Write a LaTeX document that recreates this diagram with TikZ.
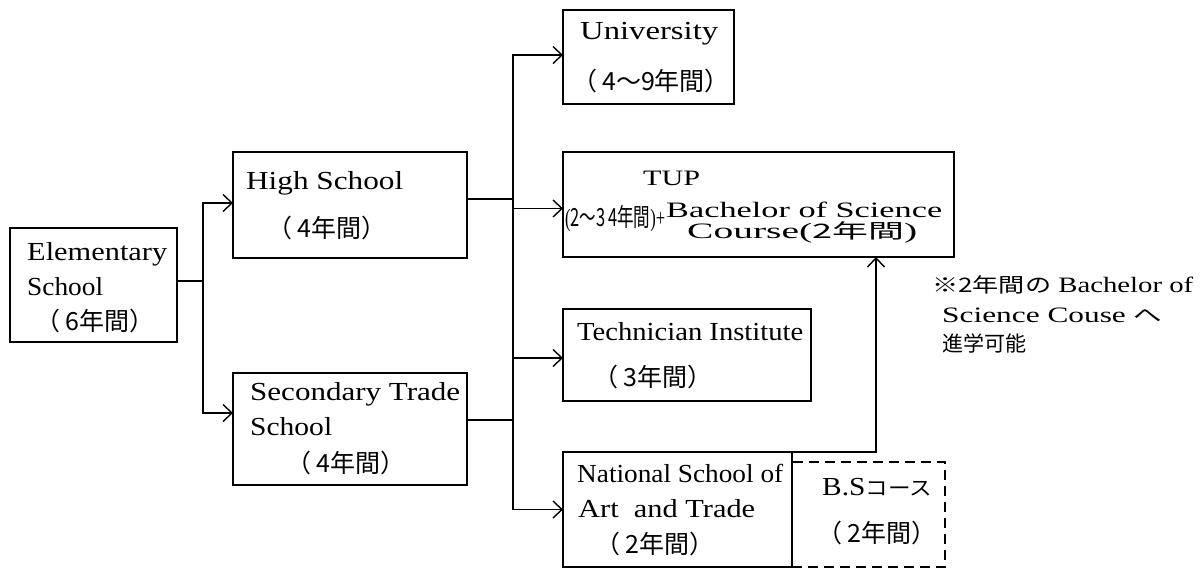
\documentclass[tikz,border=0pt]{standalone}
\usepackage{fontspec}
\usepackage{graphicx}
\setmainfont{Liberation Serif}
\newfontfamily\cjk{Noto Sans CJK JP}
\usetikzlibrary{arrows.meta}
\newcommand\fitw[2]{\resizebox{#1pt}{\height}{#2}}
\newcommand\yr[1]{（\hspace{5pt}#1）}
\tikzset{
  box/.style={draw, line width=1.8pt, inner sep=0pt, outer sep=0pt},
  dbox/.style={draw, line width=1.6pt, dash pattern=on 10pt off 6pt, inner sep=0pt, outer sep=0pt},
  link/.style={line width=1.6pt},
  arr/.style={line width=1.6pt, -{Straight Barb[length=9pt,width=17pt,line width=1.4pt]}},
  txt/.style={inner sep=0pt, anchor=base west, font=\fontsize{26}{30}\selectfont},
  stxt/.style={inner sep=0pt, anchor=base west, font=\fontsize{22}{26}\selectfont},
  ctx/.style={inner sep=0pt, anchor=base, font=\cjk\fontsize{25}{28}\selectfont},
}
\begin{document}
\begin{tikzpicture}[x=1pt,y=-1pt]
\useasboundingbox (0,0) rectangle (1202,568);
% boxes
\node[box, minimum width=167pt, minimum height=114pt] (elem) at (93.5,285) {};
\node[box, minimum width=234pt, minimum height=106pt] (hs) at (350,205) {};
\node[box, minimum width=234pt, minimum height=112pt] (sec) at (350,429) {};
\node[box, minimum width=171pt, minimum height=94pt] (univ) at (648.5,57) {};
\node[box, minimum width=391pt, minimum height=105pt] (tup) at (758.5,204.5) {};
\node[box, minimum width=248pt, minimum height=92pt] (tech) at (687,355) {};
\node[dbox, minimum width=153pt, minimum height=105pt] (bs) at (868.5,514.5) {};
\node[box, minimum width=229pt, minimum height=115pt] (natl) at (677.5,509.5) {};
% texts
\node[txt] (e1) at (27,260) {\fitw{140}{Elementary}};
\node[txt] (e2) at (27,295) {\fitw{76}{School}};
\node[ctx] (e3) at (95,330) {\yr{6年間}};
\node[txt] (h1) at (246,189) {\fitw{157}{High School}};
\node[ctx] (h2) at (327,237) {\yr{4年間}};
\node[txt] (s1) at (250,400) {\fitw{210}{Secondary Trade}};
\node[txt] (s2) at (250,435) {\fitw{82}{School}};
\node[ctx] (s3) at (346,472) {\yr{4年間}};
\node[txt] (u1) at (580,39) {\fitw{138}{University}};
\node[ctx] (u2) at (651,90) {\yr{4〜9年間}};
\node[stxt] (p1) at (643,185) {\fitw{57}{TUP}};
\node[stxt] (p2) at (565,226) {\fitw{100}{\fontsize{25}{28}\selectfont({\cjk 2〜3\,4年間})+}};
\node[stxt] (p3) at (666,217) {\fitw{276}{Bachelor of Science}};
\node[stxt] (p4) at (687,238) {\fitw{230}{Course({\cjk\fontsize{20}{24}\selectfont 2年間})}};
\node[txt] (t1) at (577,340) {\fitw{226}{Technician Institute}};
\node[ctx] (t2) at (653,386) {\yr{3年間}};
\node[txt] (n1) at (577,482) {\fitw{206}{National School of}};
\node[txt] (n2) at (578,517) {\fitw{177}{Art\ \ and Trade}};
\node[ctx] (n3) at (655,553) {\yr{2年間}};
\node[txt] (b1) at (822,495) {\fitw{110}{B.S{\cjk\fontsize{20}{24}\selectfont コース}}};
\node[ctx] (b2) at (877,542) {\yr{2年間}};
\node[stxt] (m1) at (932,292) {\fitw{261}{{\cjk\fontsize{20}{24}\selectfont ※2年間の} Bachelor of}};
\node[stxt] (m2) at (942,322) {\fitw{220}{Science Couse {\cjk\fontsize{20}{24}\selectfont へ}}};
\node[stxt] (m3) at (942,351) {{\cjk\fontsize{21}{24}\selectfont 進学可能}};
% connectors
\draw[link] ([yshift=4pt]elem.east) -- ++(26,0) coordinate (j1);
\draw[arr] (j1) |- ([yshift=2pt]hs.west);
\draw[arr] (j1) |- ([yshift=16pt]sec.west);
\draw[link] ([yshift=6pt]hs.east) -- ++(46,0) coordinate (j2);
\draw[link] ([yshift=9pt]sec.east) -| (j2);
\draw[arr] (j2) |- ([yshift=2pt]univ.west);
\draw[arr] (j2) |- ([yshift=-4pt]tup.west);
\draw[arr] (j2) |- ([yshift=-3pt]tech.west);
\draw[arr] (j2) |- (natl.west);
\draw[arr] (natl.north east) -| ([xshift=117.5pt]tup.south);
\end{tikzpicture}
\end{document}
